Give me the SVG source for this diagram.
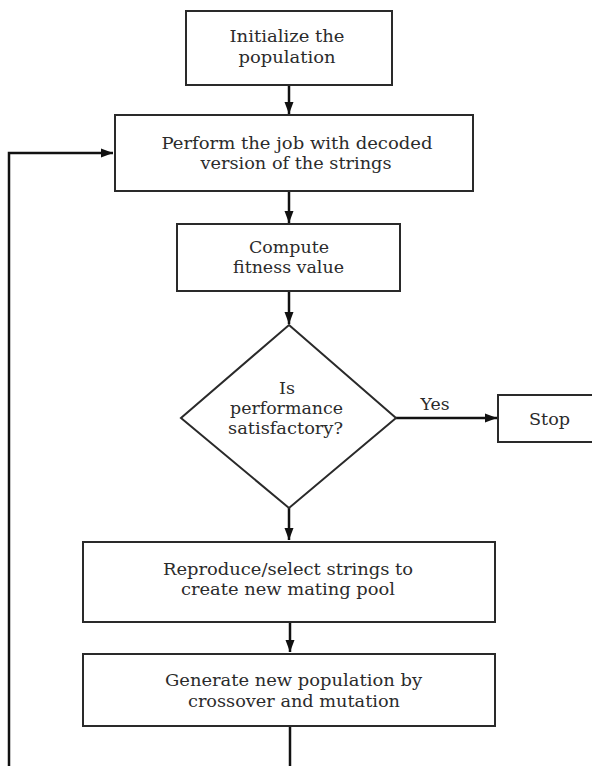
<svg xmlns="http://www.w3.org/2000/svg" width="592" height="766" viewBox="0 0 592 766">
  <style>
    .box { fill: #ffffff; stroke: #2a2a2a; stroke-width: 2; }
    .edge { fill: none; stroke: #111111; stroke-width: 2.5; }
    .lbl { font-family: "DejaVu Serif", "Liberation Serif", serif; font-size: 16px; fill: #2b2b2b; text-anchor: middle; }
  </style>
  <defs>
    <marker id="arrow" markerUnits="userSpaceOnUse" markerWidth="12" markerHeight="12" viewBox="0 0 12 12" refX="12" refY="6" orient="auto">
      <path d="M0,1.5 L12,6 L0,10.5 Z" fill="#111111"/>
    </marker>
  </defs>
  <rect width="592" height="766" fill="#ffffff"/>

  <g id="connectors">
    <line class="edge" x1="289" y1="85" x2="289" y2="114" marker-end="url(#arrow)"/>
    <line class="edge" x1="289" y1="191" x2="289" y2="223" marker-end="url(#arrow)"/>
    <line class="edge" x1="289" y1="291" x2="289" y2="324" marker-end="url(#arrow)"/>
    <line class="edge" x1="396" y1="418" x2="497" y2="418" marker-end="url(#arrow)"/>
    <line class="edge" x1="289" y1="508" x2="289" y2="540" marker-end="url(#arrow)"/>
    <line class="edge" x1="290" y1="621" x2="290" y2="652" marker-end="url(#arrow)"/>
    <line class="edge" x1="290" y1="726" x2="290" y2="770"/>
    <polyline class="edge" points="9,770 9,153 113,153" marker-end="url(#arrow)"/>
    <text class="lbl" x="435" y="410" textLength="29" lengthAdjust="spacingAndGlyphs">Yes</text>
  </g>

  <g id="init">
    <rect class="box" x="186" y="11" width="206" height="74"/>
    <text class="lbl" x="287" y="42" textLength="115" lengthAdjust="spacingAndGlyphs">Initialize the</text>
    <text class="lbl" x="287" y="63" textLength="97" lengthAdjust="spacingAndGlyphs">population</text>
  </g>

  <g id="perform">
    <rect class="box" x="115" y="115" width="358" height="76"/>
    <text class="lbl" x="297" y="149" textLength="271" lengthAdjust="spacingAndGlyphs">Perform the job with decoded</text>
    <text class="lbl" x="296" y="169" textLength="191" lengthAdjust="spacingAndGlyphs">version of the strings</text>
  </g>

  <g id="fitness">
    <rect class="box" x="177" y="224" width="223" height="67"/>
    <text class="lbl" x="289" y="253" textLength="80" lengthAdjust="spacingAndGlyphs">Compute</text>
    <text class="lbl" x="288.5" y="273" textLength="111" lengthAdjust="spacingAndGlyphs">fitness value</text>
  </g>

  <g id="decision">
    <polygon class="box" points="289,325 396,418 289,508 181,418"/>
    <text class="lbl" x="287" y="394" textLength="16" lengthAdjust="spacingAndGlyphs">Is</text>
    <text class="lbl" x="286.5" y="414" textLength="113" lengthAdjust="spacingAndGlyphs">performance</text>
    <text class="lbl" x="285.5" y="434" textLength="115" lengthAdjust="spacingAndGlyphs">satisfactory?</text>
  </g>

  <g id="stop">
    <rect class="box" x="498" y="395" width="110" height="47"/>
    <text class="lbl" x="549.5" y="425" textLength="41" lengthAdjust="spacingAndGlyphs">Stop</text>
  </g>

  <g id="reproduce">
    <rect class="box" x="83" y="542" width="412" height="80"/>
    <text class="lbl" x="288" y="575" textLength="250" lengthAdjust="spacingAndGlyphs">Reproduce/select strings to</text>
    <text class="lbl" x="288" y="595" textLength="214" lengthAdjust="spacingAndGlyphs">create new mating pool</text>
  </g>

  <g id="generate">
    <rect class="box" x="83" y="654" width="412" height="72"/>
    <text class="lbl" x="293.5" y="686" textLength="257" lengthAdjust="spacingAndGlyphs">Generate new population by</text>
    <text class="lbl" x="294" y="707" textLength="212" lengthAdjust="spacingAndGlyphs">crossover and mutation</text>
  </g>
</svg>
